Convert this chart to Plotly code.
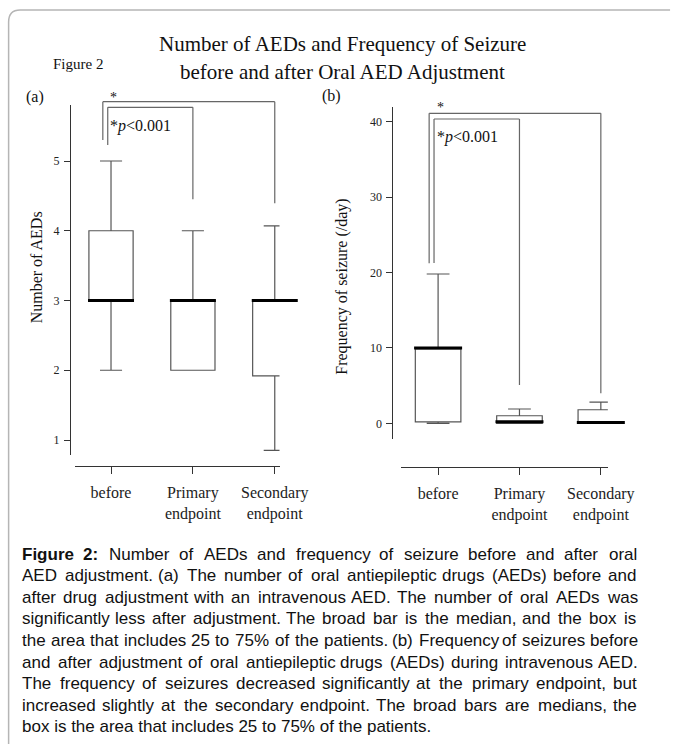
import plotly.graph_objects as go

W, H = 678, 744

def px(x):
    return x / W

def py(y):
    return 1 - y / H

# ---------------- data ----------------
categories = ["before", "Primary endpoint", "Secondary endpoint"]
tick_text = ["before", "Primary<br>endpoint", "Secondary<br>endpoint"]

# (a) Number of AEDs
aed_lower = [2, 2, 0.85]
aed_q1 = [3, 2, 1.92]
aed_median = [3, 3, 3]
aed_q3 = [4, 3, 3]
aed_upper = [5, 4, 4.07]
aed_ticks = [1, 2, 3, 4, 5]

# (b) Frequency of seizure (/day)
sz_lower = [0, 0, 0]
sz_q1 = [0.2, 0, 0]
sz_median = [10, 0.2, 0.1]
sz_q3 = [10, 1.0, 1.8]
sz_upper = [19.8, 1.9, 2.8]
sz_ticks = [0, 10, 20, 30, 40]

caption_bold = "Figure 2:"
caption_lines = [
    "Figure 2: Number of AEDs and frequency of seizure before and after oral",
    "AED adjustment. (a) The number of oral antiepileptic drugs (AEDs) before and",
    "after drug adjustment with an intravenous AED. The number of oral AEDs was",
    "significantly less after adjustment. The broad bar is the median, and the box is",
    "the area that includes 25 to 75% of the patients. (b) Frequency of seizures before",
    "and after adjustment of oral antiepileptic drugs (AEDs) during intravenous AED.",
    "The frequency of seizures decreased significantly at the primary endpoint, but",
    "increased slightly at the secondary endpoint. The broad bars are medians, the",
    "box is the area that includes 25 to 75% of the patients.",
]

SERIF = "Liberation Serif, Times New Roman, serif"
SANS = "Liberation Sans, Arial, sans-serif"
BOX_COLOR = "#555555"
AX_COLOR = "#333333"

fig = go.Figure()

def add_panel(xa, ya, lower, q1, med, q3, upper, box_w, med_px):
    fig.add_trace(go.Box(
        x=categories, q1=q1, median=med, q3=q3,
        lowerfence=lower, upperfence=upper,
        width=box_w, whiskerwidth=0.5,
        line=dict(color=BOX_COLOR, width=1.2),
        fillcolor="rgba(255,255,255,0)",
        boxpoints=False, showlegend=False, hoverinfo="skip",
        xaxis=xa, yaxis=ya,
    ))
    # thick median bar ('line-ew' symbol is 1.4 x size wide)
    fig.add_trace(go.Scatter(
        x=categories, y=med, mode="markers",
        marker=dict(symbol="line-ew", size=med_px / 1.4,
                    line=dict(width=3, color="black")),
        showlegend=False, hoverinfo="skip", cliponaxis=False,
        xaxis=xa, yaxis=ya,
    ))

add_panel("x", "y", aed_lower, aed_q1, aed_median, aed_q3, aed_upper, 0.54, 46)
add_panel("x2", "y2", sz_lower, sz_q1, sz_median, sz_q3, sz_upper, 0.56, 48)

xcommon = dict(
    type="category", anchor="free", showline=True, linecolor=AX_COLOR,
    linewidth=1, ticks="outside", ticklen=7, tickcolor=AX_COLOR,
    showgrid=False, zeroline=False, tickvals=categories, ticktext=tick_text,
    tickfont=dict(family=SERIF, size=16, color="#222"),
    ticklabelstandoff=5, fixedrange=True,
)
ycommon = dict(
    anchor="free", showline=True, linecolor=AX_COLOR, linewidth=1,
    ticks="outside", ticklen=6, tickcolor=AX_COLOR, showgrid=False,
    zeroline=False, tickfont=dict(family=SERIF, size=12, color="#222"),
    ticklabelstandoff=2, fixedrange=True,
)

fig.update_layout(
    width=W, height=H, autosize=False,
    margin=dict(l=0, r=0, t=0, b=0, pad=0),
    paper_bgcolor="white", plot_bgcolor="rgba(0,0,0,0)",
    xaxis=dict(domain=[px(78), px(292)], position=py(466),
               range=[-0.444, 2.058], **xcommon),
    yaxis=dict(domain=[py(455), py(105)], position=px(73),
               range=[0.785, 5.803], tickvals=aed_ticks, **ycommon),
    xaxis2=dict(domain=[px(419), px(635)], position=py(466.7),
                range=[-0.455, 2.086], **xcommon),
    yaxis2=dict(domain=[py(439.3), py(106.7)], position=px(410),
                range=[-2.12, 41.99], tickvals=sz_ticks, **ycommon),
)

shapes = []
# frame with rounded top-left corner
r = 12
shapes.append(dict(
    type="path", xref="paper", yref="paper",
    path=(f"M {px(9)},{py(760)} L {px(9)},{py(10 + r)} "
          f"Q {px(9)},{py(10)} {px(9 + r)},{py(10)} L {px(700)},{py(10)}"),
    line=dict(color="#b5b5b5", width=1.5),
))

BR = dict(color="#666666", width=1.2)

def bracket(xref, x0, x1, ytop, yleft, yright):
    shapes.append(dict(type="line", xref=xref, yref="paper",
                       x0=x0, x1=x0, y0=py(yleft), y1=py(ytop), line=BR))
    shapes.append(dict(type="line", xref=xref, yref="paper",
                       x0=x0, x1=x1, y0=py(ytop), y1=py(ytop), line=BR))
    shapes.append(dict(type="line", xref=xref, yref="paper",
                       x0=x1, x1=x1, y0=py(ytop), y1=py(yright), line=BR))

# panel (a)
bracket("x", -0.10, 2.0, 101.7, 140, 203.3)
bracket("x", -0.04, 1.0, 107.3, 145, 199.3)
# panel (b)
bracket("x2", -0.11, 2.0, 113.3, 263.3, 393.3)
bracket("x2", -0.05, 1.0, 119, 263, 385)

fig.update_layout(shapes=shapes)

ann = []

def text(t, x, y, size, family=SERIF, xanchor="center", angle=0, color="#111"):
    ann.append(dict(text=t, x=px(x), y=py(y), xref="paper", yref="paper",
                    xanchor=xanchor, yanchor="middle", showarrow=False,
                    textangle=angle, borderpad=0,
                    font=dict(family=family, size=size, color=color)))

text("Number of AEDs and Frequency of Seizure", 358, 44, 21)
text("before and after Oral AED Adjustment", 358, 72, 21)
text("Figure 2", 81, 64, 15)
text("(a)", 37, 97, 16)
text("(b)", 346, 96, 16)
text("Number of AEDs", 38, 267, 16, angle=-90)
text("Frequency of seizure (/day)", 357, 287, 16, angle=-90)
text("*", 119, 97, 14)
text("*<i>p</i>&lt;0.001", 114, 126, 16, xanchor="left")
text("*", 460, 108, 14)
text("*<i>p</i>&lt;0.001", 455, 137, 16, xanchor="left")

# ---- justified caption (Arial / Liberation Sans metrics, 1/1000 em) ----
REG = {" ": 278, "%": 889, "(": 333, ")": 333, ",": 278, ".": 278, ":": 278,
       "A": 667, "B": 667, "C": 722, "D": 722, "E": 667, "F": 611, "G": 778,
       "H": 722, "I": 278, "J": 500, "K": 667, "L": 556, "M": 833, "N": 722,
       "O": 778, "P": 667, "Q": 778, "R": 722, "S": 667, "T": 611, "U": 722,
       "V": 667, "W": 944, "X": 667, "Y": 667, "Z": 611,
       "a": 556, "b": 556, "c": 500, "d": 556, "e": 556, "f": 278, "g": 556,
       "h": 556, "i": 222, "j": 222, "k": 500, "l": 222, "m": 833, "n": 556,
       "o": 556, "p": 556, "q": 556, "r": 333, "s": 500, "t": 278, "u": 556,
       "v": 500, "w": 722, "x": 500, "y": 500, "z": 500}
BOLD = dict(REG, **{"F": 611, "i": 278, "g": 611, "u": 611, "r": 389,
                    "e": 556, ":": 333})
for d in "0123456789":
    REG[d] = 556
    BOLD[d] = 556

CAP_SIZE = 17
CAP_X0, CAP_X1 = 22, 663
CAP_Y0, CAP_DY = 554, 21.6
bold_words = set(caption_bold.split())

def wwidth(w, bold):
    tab = BOLD if bold else REG
    return sum(tab.get(c, 556) for c in w) / 1000 * CAP_SIZE

last = len(caption_lines) - 1
for i, line in enumerate(caption_lines):
    y = CAP_Y0 + CAP_DY * i
    if i == last:
        text(line, CAP_X0, y, CAP_SIZE, family=SANS, xanchor="left")
        continue
    words = line.split(" ")
    flags = [(i == 0 and j < len(bold_words) and w in bold_words)
             for j, w in enumerate(words)]
    widths = [wwidth(w, b) for w, b in zip(words, flags)]
    space = (CAP_X1 - CAP_X0 - sum(widths)) / (len(words) - 1)
    x = CAP_X0
    for w, b, wd in zip(words, flags, widths):
        t = f"<b>{w}</b>" if b else w
        text(t, x, y, CAP_SIZE, family=SANS, xanchor="left")
        x += wd + space

fig.update_layout(annotations=ann)

fig.write_html("out.html",
               config={"displayModeBar": False, "responsive": False},
               post_script="document.body.style.margin='0';"
                           "document.body.style.overflow='hidden';")
